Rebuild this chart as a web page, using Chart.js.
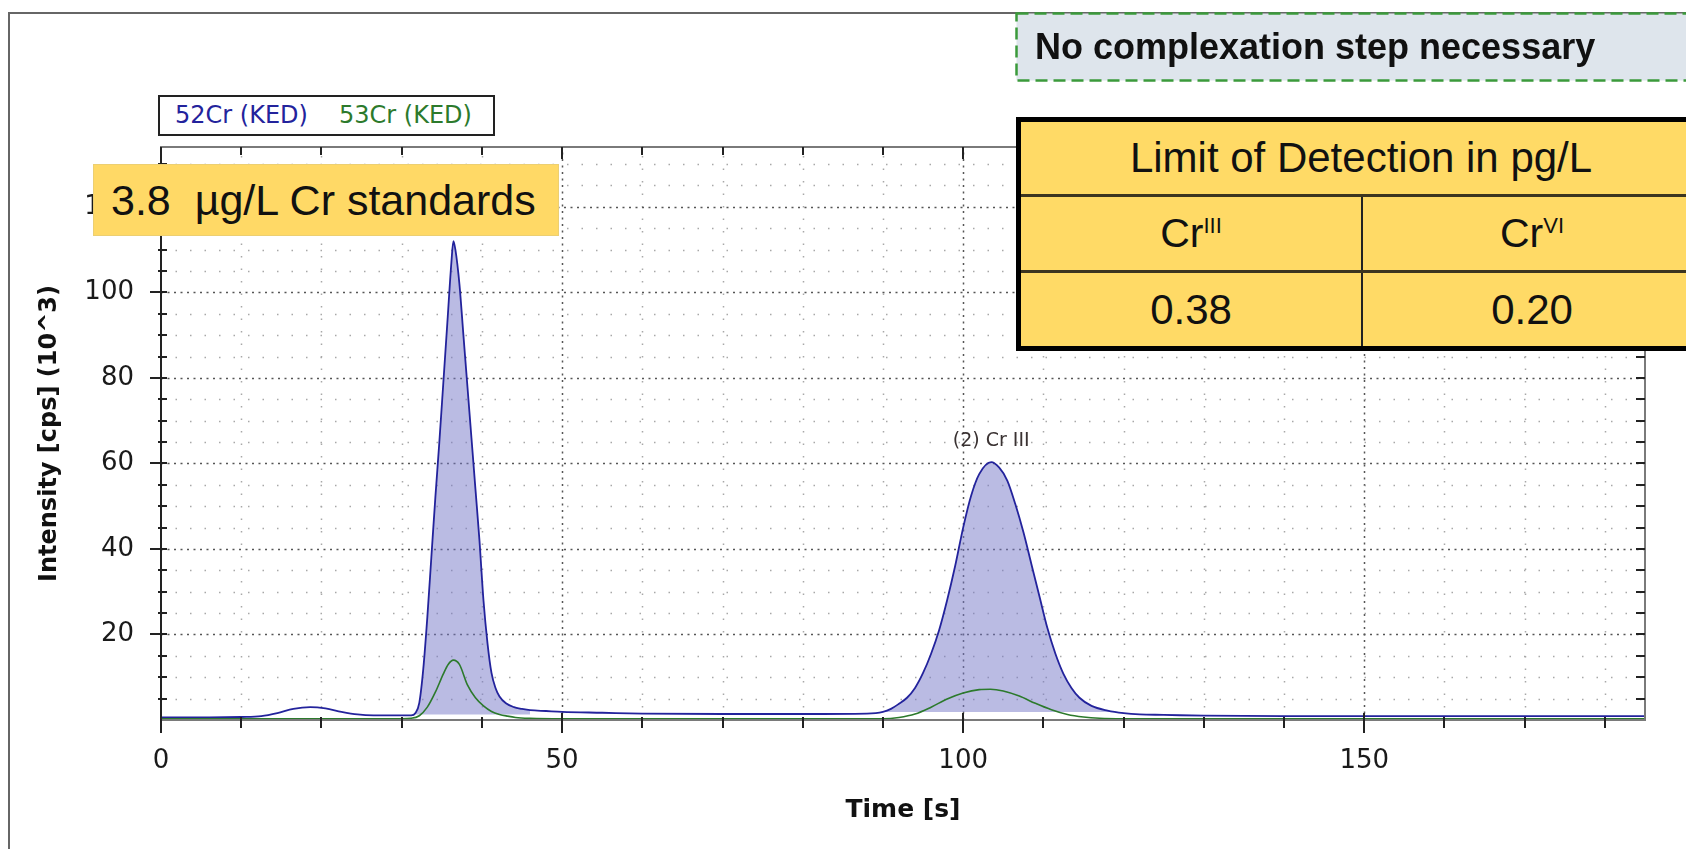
<!DOCTYPE html>
<html>
<head>
<meta charset="utf-8">
<script src="https://cdn.jsdelivr.net/npm/chart.js@4.4.1/dist/chart.umd.min.js"></script>
<style>
  html, body { margin: 0; padding: 0; background: #fff; overflow: hidden; }
  #wrap { position: relative; width: 1686px; height: 849px; overflow: hidden; }
  #frame { position: absolute; left: 8px; top: 12px; width: 1720px; height: 900px; border: 2px solid #666; }
  #chart { position: absolute; left: 0; top: 0; }
  #legend { position: absolute; left: 158px; top: 95px; width: 337px; height: 41px; box-sizing: border-box;
            border: 2px solid #222; background: #fff; font: 24px "DejaVu Sans"; }
  #legend span { position: absolute; top: 0; line-height: 37px; white-space: nowrap; }
  #std { position: absolute; left: 93px; top: 164px; width: 466px; height: 72px; box-sizing: border-box;
         background: #ffd966; border: 1px solid #eccf72; font: 43px "Liberation Sans", Arial, sans-serif;
         line-height: 70px; padding-left: 17px; white-space: pre; color: #111; }
  #note { position: absolute; left: 1015px; top: 12px; }
  #noteText { position: absolute; left: 1035px; top: 13px; height: 68px;
              font: bold 36px "Liberation Sans", Arial, sans-serif; line-height: 68px; color: #111; white-space: nowrap; }
  #lod { position: absolute; left: 1016px; top: 117px; width: 690px; border-collapse: collapse;
         border: 5px solid #000; background: #ffda66; font-family: "Liberation Sans", Arial, sans-serif; color: #111; }
  #lod td { text-align: center; padding: 0; }
  #lod tr.h td { height: 72px; font-size: 42px; border-bottom: 3px solid #3c3520; }
  #lod tr.s td { height: 73px; font-size: 41px; border-bottom: 3px solid #3c3520; }
  #lod tr.v td { height: 73px; font-size: 42px; }
  #lod td.c1 { width: 340px; border-right: 2px solid #222; }
  #lod .sup { font-size: 22px; vertical-align: 14px; }
</style>
</head>
<body>
<div id="wrap">
  <div id="frame"></div>
  <canvas id="chart" width="1686" height="849"></canvas>
  <div id="legend"></div>
  <div id="std">3.8  µg/L Cr standards</div>
  <svg id="note" width="700" height="72">
    <rect x="1.5" y="1.5" width="720" height="67" fill="#dee5ec" stroke="#3b9a3b" stroke-width="2.5" stroke-dasharray="12 6"></rect>
  </svg>
  <div id="noteText">No complexation step necessary</div>
  <table id="lod">
    <tr class="h"><td colspan="2">Limit of Detection in pg/L</td></tr>
    <tr class="s"><td class="c1">Cr<span class="sup">III</span></td><td>Cr<span class="sup">VI</span></td></tr>
    <tr class="v"><td class="c1">0.38</td><td>0.20</td></tr>
  </table>
</div>
<script>
// chromatogram, time in s, intensity in 10^3 cps
const time52 = [0, 6, 10, 12.5, 14.5, 16.5, 18.6, 20.5, 22.5, 24.5, 26.5, 30, 31.2, 31.7, 32.2, 32.7, 33.2, 33.7, 34.2, 34.7,
  35.2, 35.7, 36.2, 36.45, 36.7, 37.2, 37.7, 38.2, 38.7, 39.2, 39.7, 40.2, 40.7, 41.2, 41.7, 42.2, 43, 44, 45, 46, 48, 50, 55, 60,
  70, 80, 88, 90, 91, 92, 93, 94, 95, 96, 97, 98, 99, 100, 101, 102, 103.5, 104.5, 105.5, 106.5, 107.5, 108.5,
  109.5, 110.5, 111.5, 112.5, 113.5, 114.5, 116, 118, 120, 122, 125, 130, 140, 160, 185];
const cr52 = [0.6, 0.6, 0.7, 0.9, 1.6, 2.6, 3.0, 2.7, 1.9, 1.3, 1.1, 1.1, 1.1, 1.6, 4, 12, 24, 38, 52, 65,
  79, 93, 107, 112, 110, 102, 90, 78, 66, 54, 42, 28, 18, 11, 7.5, 5.5, 3.9, 3.0, 2.6, 2.3, 2.1, 1.9, 1.7, 1.5,
  1.4, 1.4, 1.5, 1.9, 2.6, 3.8, 5.2, 7.5, 11, 15.5, 21, 28, 36, 45, 52.5, 57.5, 60.3, 59, 56, 50.5, 44, 36.5,
  29, 21.5, 15.5, 10.8, 7.5, 5.2, 3.3, 2.2, 1.6, 1.3, 1.2, 1.0, 0.9, 0.9, 0.9];
const time53 = [0, 10, 20, 30, 31.2, 32.2, 33.2, 34.2, 35.2, 35.8, 36.45, 37.2, 38.2, 39.2, 40.2, 41.2, 42.2, 43.2, 44.2, 46, 50, 70, 90,
  92, 94, 96, 98, 100, 102, 103.4, 105, 107, 109, 111, 113, 115, 117, 120, 140, 185];
const cr53 = [0.3, 0.3, 0.3, 0.3, 0.4, 1.0, 3.0, 6.5, 10.8, 13, 14, 13, 8.2, 5.2, 3.3, 2.0, 1.3, 0.9, 0.6, 0.4, 0.3, 0.3, 0.3,
  0.6, 1.4, 3.0, 4.9, 6.3, 7.1, 7.2, 6.8, 5.6, 3.9, 2.4, 1.3, 0.7, 0.4, 0.3, 0.3, 0.3];
const seriesLabels = ["52Cr (KED)", "53Cr (KED)"];
const seriesColors = ["#23239c", "#2c7a2c"];
// integrated peak windows (s) and their baselines
const peakStart = [31.2, 90];
const peakEnd = [46, 120];
const peakBase = [1.3, 1.9];
const peakNames = ["(2) Cr III"];
const peakNameTimes = [103.5];

const X_MAX = 185;
const Y_MAX = 134;
const areaColor = "rgba(118, 120, 200, 0.5)";

function toPoints(ts, vs) {
  return ts.map((t, i) => ({ x: t, y: vs[i] }));
}

// legend box
const legendEl = document.getElementById("legend");
const legendLeft = [15, 179];
seriesLabels.forEach((name, i) => {
  const s = document.createElement("span");
  s.textContent = name;
  s.style.left = legendLeft[i] + "px";
  s.style.color = seriesColors[i];
  legendEl.appendChild(s);
});

const areaSets = peakStart.map((start, i) => ({
  label: "area" + i,
  data: toPoints(time52, cr52).filter((p) => p.x >= start && p.x <= peakEnd[i]),
  borderWidth: 0,
  pointRadius: 0,
  backgroundColor: areaColor,
  fill: { value: peakBase[i] },
  cubicInterpolationMode: "monotone",
}));

// dotted grid, tick marks on all four sides and the frame
const frameGrid = {
  id: "frameGrid",
  beforeDatasetsDraw(chart) {
    const { ctx, chartArea: a, scales } = chart;
    const x = scales.x, y = scales.y;
    ctx.save();
    ctx.beginPath();
    ctx.rect(a.left, a.top, a.right - a.left, a.bottom - a.top);
    ctx.clip();
    ctx.lineWidth = 1.5;
    for (let v = 10; v < X_MAX; v += 10) {
      const major = v % 50 === 0;
      const px = Math.round(x.getPixelForValue(v)) + 0.5;
      ctx.setLineDash(major ? [2, 4.5] : [1.5, 11]);
      ctx.strokeStyle = major ? "#555" : "#a8a8a8";
      ctx.beginPath();
      ctx.moveTo(px, a.bottom);
      ctx.lineTo(px, a.top);
      ctx.stroke();
    }
    for (let v = 5; v < Y_MAX; v += 5) {
      const major = v % 20 === 0;
      const py = Math.round(y.getPixelForValue(v)) + 0.5;
      ctx.setLineDash(major ? [2, 4.5] : [1.5, 13]);
      ctx.strokeStyle = major ? "#555" : "#a8a8a8";
      ctx.beginPath();
      ctx.moveTo(a.left, py);
      ctx.lineTo(a.right, py);
      ctx.stroke();
    }
    ctx.restore();
  },
  afterDatasetsDraw(chart) {
    const { ctx, chartArea: a, scales } = chart;
    const x = scales.x, y = scales.y;
    ctx.save();
    ctx.setLineDash([]);
    // frame
    ctx.lineWidth = 2;
    ctx.strokeStyle = "#7a7a7a";
    ctx.strokeRect(a.left, a.top, a.right - a.left, a.bottom - a.top);
    ctx.strokeStyle = "#222";
    ctx.beginPath();
    ctx.moveTo(a.left, a.top);
    ctx.lineTo(a.left, a.bottom);
    ctx.stroke();
    // ticks
    ctx.lineWidth = 2;
    ctx.strokeStyle = "#222";
    ctx.beginPath();
    for (let v = 5; v < Y_MAX; v += 5) {
      const major = v % 20 === 0;
      const py = Math.round(y.getPixelForValue(v));
      ctx.moveTo(a.left - (major ? 11 : 3), py);
      ctx.lineTo(a.left + 6, py);
      ctx.moveTo(a.right, py);
      ctx.lineTo(a.right - 9, py);
    }
    for (let v = 0; v < X_MAX; v += 10) {
      const major = v % 50 === 0;
      const px = Math.round(x.getPixelForValue(v));
      ctx.moveTo(px, a.bottom + (major ? 13 : 8));
      ctx.lineTo(px, a.bottom - (major ? 7 : 3));
      if (v > 0) {
        ctx.moveTo(px, a.top);
        ctx.lineTo(px, a.top + (major ? 12 : 8));
      }
    }
    ctx.stroke();
    // peak names
    ctx.font = '19px "DejaVu Sans"';
    ctx.fillStyle = "#3a3232";
    ctx.textAlign = "center";
    ctx.textBaseline = "bottom";
    peakNames.forEach((name, i) => {
      const t = peakNameTimes[i];
      let top = 0;
      time52.forEach((tt, k) => { if (Math.abs(tt - t) < 3) top = Math.max(top, cr52[k]); });
      ctx.fillText(name, x.getPixelForValue(t), y.getPixelForValue(top) - 12);
    });
    ctx.restore();
  },
};

const tickFont = { family: "DejaVu Sans", size: 26 };

new Chart(document.getElementById("chart"), {
  type: "line",
  data: {
    datasets: [
      {
        label: seriesLabels[1],
        data: toPoints(time53, cr53),
        borderColor: seriesColors[1],
        borderWidth: 1.6,
        pointRadius: 0,
        fill: false,
        cubicInterpolationMode: "monotone",
      },
      {
        label: seriesLabels[0],
        data: toPoints(time52, cr52),
        borderColor: seriesColors[0],
        borderWidth: 1.8,
        pointRadius: 0,
        fill: false,
        cubicInterpolationMode: "monotone",
      },
      ...areaSets,
    ],
  },
  options: {
    responsive: false,
    animation: false,
    layout: { padding: { left: 0, top: 147, right: 41, bottom: 0 } },
    plugins: { legend: { display: false }, tooltip: { enabled: false } },
    scales: {
      x: {
        type: "linear",
        min: 0,
        max: X_MAX,
        grid: { display: false, drawTicks: false },
        border: { display: false },
        ticks: { stepSize: 50, includeBounds: false, font: tickFont, color: "#1a1a1a", padding: 26, maxRotation: 0 },
        title: {
          display: true,
          text: "Time [s]",
          font: { family: "DejaVu Sans", size: 25, weight: "bold" },
          color: "#111",
          padding: { top: 0, bottom: 24 },
        },
        afterFit: (s) => { s.height = 129; },
      },
      y: {
        min: 0,
        max: Y_MAX,
        grid: { display: false, drawTicks: false },
        border: { display: false },
        ticks: {
          stepSize: 20,
          includeBounds: false,
          font: tickFont,
          color: "#1a1a1a",
          padding: 27,
          callback: (v) => (v === 0 ? "" : v),
        },
        title: {
          display: true,
          text: "Intensity [cps] (10^3)",
          font: { family: "DejaVu Sans", size: 24, weight: "bold" },
          color: "#111",
          padding: { top: 35, bottom: 0 },
        },
        afterFit: (s) => { s.width = 161; },
      },
    },
  },
  plugins: [frameGrid],
});
</script>
</body>
</html>
